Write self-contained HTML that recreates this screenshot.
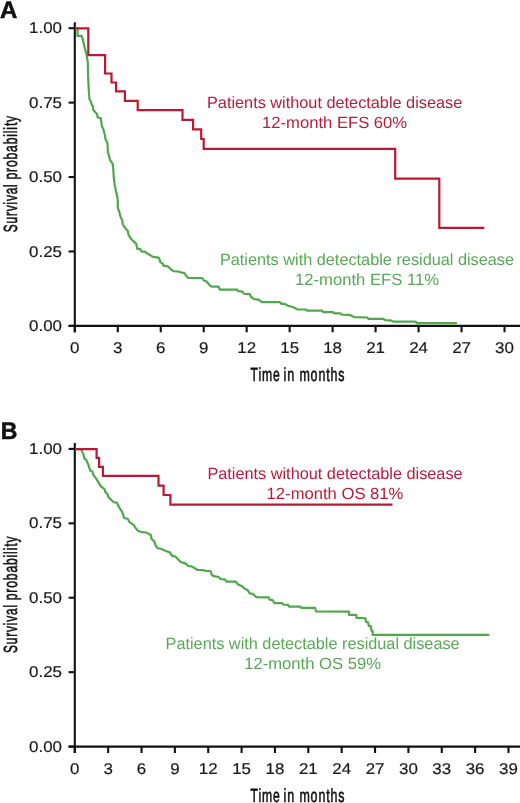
<!DOCTYPE html>
<html><head><meta charset="utf-8"><style>
html,body{margin:0;padding:0;background:#fff;width:520px;height:803px;overflow:hidden}
</style></head><body>
<svg width="520" height="803" viewBox="0 0 520 803" style="display:block;font-family:'Liberation Sans', sans-serif;text-rendering:geometricPrecision;will-change:transform">
<rect width="520" height="803" fill="#fff"/>
<line x1="74.8" y1="22.2" x2="74.8" y2="332.3" stroke="#111" stroke-width="2.1"/>
<line x1="68.6" y1="325.9" x2="520" y2="325.9" stroke="#111" stroke-width="2.1"/>
<line x1="68.6" y1="28.20" x2="74.8" y2="28.20" stroke="#111" stroke-width="2.1"/>
<text x="0" y="0" transform="translate(62.0,33.30) scale(1.09,1)" text-anchor="end" font-size="15.5" fill="#1a1a1a" stroke="#1a1a1a" stroke-width="0.2">1.00</text>
<line x1="68.6" y1="102.62" x2="74.8" y2="102.62" stroke="#111" stroke-width="2.1"/>
<text x="0" y="0" transform="translate(62.0,107.72) scale(1.09,1)" text-anchor="end" font-size="15.5" fill="#1a1a1a" stroke="#1a1a1a" stroke-width="0.2">0.75</text>
<line x1="68.6" y1="177.05" x2="74.8" y2="177.05" stroke="#111" stroke-width="2.1"/>
<text x="0" y="0" transform="translate(62.0,182.15) scale(1.09,1)" text-anchor="end" font-size="15.5" fill="#1a1a1a" stroke="#1a1a1a" stroke-width="0.2">0.50</text>
<line x1="68.6" y1="251.47" x2="74.8" y2="251.47" stroke="#111" stroke-width="2.1"/>
<text x="0" y="0" transform="translate(62.0,256.57) scale(1.09,1)" text-anchor="end" font-size="15.5" fill="#1a1a1a" stroke="#1a1a1a" stroke-width="0.2">0.25</text>
<line x1="68.6" y1="325.90" x2="74.8" y2="325.90" stroke="#111" stroke-width="2.1"/>
<text x="0" y="0" transform="translate(62.0,331.00) scale(1.09,1)" text-anchor="end" font-size="15.5" fill="#1a1a1a" stroke="#1a1a1a" stroke-width="0.2">0.00</text>
<line x1="74.80" y1="325.9" x2="74.80" y2="332.29999999999995" stroke="#111" stroke-width="2.1"/>
<text x="0" y="0" transform="translate(74.80,353.2) scale(1.09,1)" text-anchor="middle" font-size="15.5" fill="#1a1a1a" stroke="#1a1a1a" stroke-width="0.2">0</text>
<line x1="117.77" y1="325.9" x2="117.77" y2="332.29999999999995" stroke="#111" stroke-width="2.1"/>
<text x="0" y="0" transform="translate(117.77,353.2) scale(1.09,1)" text-anchor="middle" font-size="15.5" fill="#1a1a1a" stroke="#1a1a1a" stroke-width="0.2">3</text>
<line x1="160.74" y1="325.9" x2="160.74" y2="332.29999999999995" stroke="#111" stroke-width="2.1"/>
<text x="0" y="0" transform="translate(160.74,353.2) scale(1.09,1)" text-anchor="middle" font-size="15.5" fill="#1a1a1a" stroke="#1a1a1a" stroke-width="0.2">6</text>
<line x1="203.71" y1="325.9" x2="203.71" y2="332.29999999999995" stroke="#111" stroke-width="2.1"/>
<text x="0" y="0" transform="translate(203.71,353.2) scale(1.09,1)" text-anchor="middle" font-size="15.5" fill="#1a1a1a" stroke="#1a1a1a" stroke-width="0.2">9</text>
<line x1="246.68" y1="325.9" x2="246.68" y2="332.29999999999995" stroke="#111" stroke-width="2.1"/>
<text x="0" y="0" transform="translate(246.68,353.2) scale(1.09,1)" text-anchor="middle" font-size="15.5" fill="#1a1a1a" stroke="#1a1a1a" stroke-width="0.2">12</text>
<line x1="289.65" y1="325.9" x2="289.65" y2="332.29999999999995" stroke="#111" stroke-width="2.1"/>
<text x="0" y="0" transform="translate(289.65,353.2) scale(1.09,1)" text-anchor="middle" font-size="15.5" fill="#1a1a1a" stroke="#1a1a1a" stroke-width="0.2">15</text>
<line x1="332.62" y1="325.9" x2="332.62" y2="332.29999999999995" stroke="#111" stroke-width="2.1"/>
<text x="0" y="0" transform="translate(332.62,353.2) scale(1.09,1)" text-anchor="middle" font-size="15.5" fill="#1a1a1a" stroke="#1a1a1a" stroke-width="0.2">18</text>
<line x1="375.59" y1="325.9" x2="375.59" y2="332.29999999999995" stroke="#111" stroke-width="2.1"/>
<text x="0" y="0" transform="translate(375.59,353.2) scale(1.09,1)" text-anchor="middle" font-size="15.5" fill="#1a1a1a" stroke="#1a1a1a" stroke-width="0.2">21</text>
<line x1="418.56" y1="325.9" x2="418.56" y2="332.29999999999995" stroke="#111" stroke-width="2.1"/>
<text x="0" y="0" transform="translate(418.56,353.2) scale(1.09,1)" text-anchor="middle" font-size="15.5" fill="#1a1a1a" stroke="#1a1a1a" stroke-width="0.2">24</text>
<line x1="461.53" y1="325.9" x2="461.53" y2="332.29999999999995" stroke="#111" stroke-width="2.1"/>
<text x="0" y="0" transform="translate(461.53,353.2) scale(1.09,1)" text-anchor="middle" font-size="15.5" fill="#1a1a1a" stroke="#1a1a1a" stroke-width="0.2">27</text>
<line x1="504.50" y1="325.9" x2="504.50" y2="332.29999999999995" stroke="#111" stroke-width="2.1"/>
<text x="0" y="0" transform="translate(504.50,353.2) scale(1.09,1)" text-anchor="middle" font-size="15.5" fill="#1a1a1a" stroke="#1a1a1a" stroke-width="0.2">30</text>
<text x="0" y="0" transform="translate(250.6,380.8) scale(0.64,1)" font-size="19" letter-spacing="1.3" fill="#111" stroke="#111" stroke-width="0.6">Time</text>
<text x="0" y="0" transform="translate(283.5,380.8) scale(0.66,1)" font-size="19" letter-spacing="1.3" fill="#111" stroke="#111" stroke-width="0.6">in</text>
<text x="0" y="0" transform="translate(299.4,380.8) scale(0.655,1)" font-size="19" letter-spacing="1.3" fill="#111" stroke="#111" stroke-width="0.6">months</text>
<text x="0" y="0" transform="translate(16.8,232.2) rotate(-90) scale(0.625,1)" text-anchor="start" font-size="19" letter-spacing="1.3" fill="#111" stroke="#111" stroke-width="0.6">Survival</text>
<text x="0" y="0" transform="translate(16.8,115.0) rotate(-90) scale(0.64,1)" text-anchor="end" font-size="19" letter-spacing="1.3" fill="#111" stroke="#111" stroke-width="0.6">probability</text>
<text x="0" y="0" transform="translate(0.0,18.2) scale(1.0,1)" font-size="24" font-weight="bold" fill="#111" stroke="#111" stroke-width="0.55">A</text>
<line x1="74.8" y1="442.9" x2="74.8" y2="753.0" stroke="#111" stroke-width="2.1"/>
<line x1="68.6" y1="746.5999999999999" x2="520" y2="746.5999999999999" stroke="#111" stroke-width="2.1"/>
<line x1="68.6" y1="448.90" x2="74.8" y2="448.90" stroke="#111" stroke-width="2.1"/>
<text x="0" y="0" transform="translate(62.0,454.00) scale(1.09,1)" text-anchor="end" font-size="15.5" fill="#1a1a1a" stroke="#1a1a1a" stroke-width="0.2">1.00</text>
<line x1="68.6" y1="523.32" x2="74.8" y2="523.32" stroke="#111" stroke-width="2.1"/>
<text x="0" y="0" transform="translate(62.0,528.42) scale(1.09,1)" text-anchor="end" font-size="15.5" fill="#1a1a1a" stroke="#1a1a1a" stroke-width="0.2">0.75</text>
<line x1="68.6" y1="597.75" x2="74.8" y2="597.75" stroke="#111" stroke-width="2.1"/>
<text x="0" y="0" transform="translate(62.0,602.85) scale(1.09,1)" text-anchor="end" font-size="15.5" fill="#1a1a1a" stroke="#1a1a1a" stroke-width="0.2">0.50</text>
<line x1="68.6" y1="672.17" x2="74.8" y2="672.17" stroke="#111" stroke-width="2.1"/>
<text x="0" y="0" transform="translate(62.0,677.27) scale(1.09,1)" text-anchor="end" font-size="15.5" fill="#1a1a1a" stroke="#1a1a1a" stroke-width="0.2">0.25</text>
<line x1="68.6" y1="746.60" x2="74.8" y2="746.60" stroke="#111" stroke-width="2.1"/>
<text x="0" y="0" transform="translate(62.0,751.70) scale(1.09,1)" text-anchor="end" font-size="15.5" fill="#1a1a1a" stroke="#1a1a1a" stroke-width="0.2">0.00</text>
<line x1="74.80" y1="746.5999999999999" x2="74.80" y2="752.9999999999999" stroke="#111" stroke-width="2.1"/>
<text x="0" y="0" transform="translate(74.80,773.9) scale(1.09,1)" text-anchor="middle" font-size="15.5" fill="#1a1a1a" stroke="#1a1a1a" stroke-width="0.2">0</text>
<line x1="108.16" y1="746.5999999999999" x2="108.16" y2="752.9999999999999" stroke="#111" stroke-width="2.1"/>
<text x="0" y="0" transform="translate(108.16,773.9) scale(1.09,1)" text-anchor="middle" font-size="15.5" fill="#1a1a1a" stroke="#1a1a1a" stroke-width="0.2">3</text>
<line x1="141.52" y1="746.5999999999999" x2="141.52" y2="752.9999999999999" stroke="#111" stroke-width="2.1"/>
<text x="0" y="0" transform="translate(141.52,773.9) scale(1.09,1)" text-anchor="middle" font-size="15.5" fill="#1a1a1a" stroke="#1a1a1a" stroke-width="0.2">6</text>
<line x1="174.88" y1="746.5999999999999" x2="174.88" y2="752.9999999999999" stroke="#111" stroke-width="2.1"/>
<text x="0" y="0" transform="translate(174.88,773.9) scale(1.09,1)" text-anchor="middle" font-size="15.5" fill="#1a1a1a" stroke="#1a1a1a" stroke-width="0.2">9</text>
<line x1="208.24" y1="746.5999999999999" x2="208.24" y2="752.9999999999999" stroke="#111" stroke-width="2.1"/>
<text x="0" y="0" transform="translate(208.24,773.9) scale(1.09,1)" text-anchor="middle" font-size="15.5" fill="#1a1a1a" stroke="#1a1a1a" stroke-width="0.2">12</text>
<line x1="241.60" y1="746.5999999999999" x2="241.60" y2="752.9999999999999" stroke="#111" stroke-width="2.1"/>
<text x="0" y="0" transform="translate(241.60,773.9) scale(1.09,1)" text-anchor="middle" font-size="15.5" fill="#1a1a1a" stroke="#1a1a1a" stroke-width="0.2">15</text>
<line x1="274.96" y1="746.5999999999999" x2="274.96" y2="752.9999999999999" stroke="#111" stroke-width="2.1"/>
<text x="0" y="0" transform="translate(274.96,773.9) scale(1.09,1)" text-anchor="middle" font-size="15.5" fill="#1a1a1a" stroke="#1a1a1a" stroke-width="0.2">18</text>
<line x1="308.32" y1="746.5999999999999" x2="308.32" y2="752.9999999999999" stroke="#111" stroke-width="2.1"/>
<text x="0" y="0" transform="translate(308.32,773.9) scale(1.09,1)" text-anchor="middle" font-size="15.5" fill="#1a1a1a" stroke="#1a1a1a" stroke-width="0.2">21</text>
<line x1="341.68" y1="746.5999999999999" x2="341.68" y2="752.9999999999999" stroke="#111" stroke-width="2.1"/>
<text x="0" y="0" transform="translate(341.68,773.9) scale(1.09,1)" text-anchor="middle" font-size="15.5" fill="#1a1a1a" stroke="#1a1a1a" stroke-width="0.2">24</text>
<line x1="375.04" y1="746.5999999999999" x2="375.04" y2="752.9999999999999" stroke="#111" stroke-width="2.1"/>
<text x="0" y="0" transform="translate(375.04,773.9) scale(1.09,1)" text-anchor="middle" font-size="15.5" fill="#1a1a1a" stroke="#1a1a1a" stroke-width="0.2">27</text>
<line x1="408.40" y1="746.5999999999999" x2="408.40" y2="752.9999999999999" stroke="#111" stroke-width="2.1"/>
<text x="0" y="0" transform="translate(408.40,773.9) scale(1.09,1)" text-anchor="middle" font-size="15.5" fill="#1a1a1a" stroke="#1a1a1a" stroke-width="0.2">30</text>
<line x1="441.76" y1="746.5999999999999" x2="441.76" y2="752.9999999999999" stroke="#111" stroke-width="2.1"/>
<text x="0" y="0" transform="translate(441.76,773.9) scale(1.09,1)" text-anchor="middle" font-size="15.5" fill="#1a1a1a" stroke="#1a1a1a" stroke-width="0.2">33</text>
<line x1="475.12" y1="746.5999999999999" x2="475.12" y2="752.9999999999999" stroke="#111" stroke-width="2.1"/>
<text x="0" y="0" transform="translate(475.12,773.9) scale(1.09,1)" text-anchor="middle" font-size="15.5" fill="#1a1a1a" stroke="#1a1a1a" stroke-width="0.2">36</text>
<line x1="508.48" y1="746.5999999999999" x2="508.48" y2="752.9999999999999" stroke="#111" stroke-width="2.1"/>
<text x="0" y="0" transform="translate(508.48,773.9) scale(1.09,1)" text-anchor="middle" font-size="15.5" fill="#1a1a1a" stroke="#1a1a1a" stroke-width="0.2">39</text>
<text x="0" y="0" transform="translate(250.6,801.5) scale(0.64,1)" font-size="19" letter-spacing="1.3" fill="#111" stroke="#111" stroke-width="0.6">Time</text>
<text x="0" y="0" transform="translate(283.5,801.5) scale(0.66,1)" font-size="19" letter-spacing="1.3" fill="#111" stroke="#111" stroke-width="0.6">in</text>
<text x="0" y="0" transform="translate(299.4,801.5) scale(0.655,1)" font-size="19" letter-spacing="1.3" fill="#111" stroke="#111" stroke-width="0.6">months</text>
<text x="0" y="0" transform="translate(16.8,652.9) rotate(-90) scale(0.625,1)" text-anchor="start" font-size="19" letter-spacing="1.3" fill="#111" stroke="#111" stroke-width="0.6">Survival</text>
<text x="0" y="0" transform="translate(16.8,535.7) rotate(-90) scale(0.64,1)" text-anchor="end" font-size="19" letter-spacing="1.3" fill="#111" stroke="#111" stroke-width="0.6">probability</text>
<text x="0" y="0" transform="translate(0.7,439.09999999999997) scale(0.96,1)" font-size="24" font-weight="bold" fill="#111" stroke="#111" stroke-width="0.55">B</text>
<g fill="none" stroke-width="2.2" stroke-linejoin="miter" stroke-linecap="butt">
<path d="M75,28.4 L77.5,28.4 L77.5,35.9 L81.6,35.9 L82.8,39.4 L84.3,46.3 L86.6,54.8 L87.8,62.5 L88.1,75.4 L88.8,90.8 L89.2,96 L89.5,99.5 L90.9,101.8 L91.5,103.8 L92.9,106.4 L93.2,109.8 L95.3,112.2 L97,113.9 L97.6,117.3 L99.3,117.9 L100.7,118.2 L101.3,122 L101.9,126.6 L103,128.3 L104.7,134 L105.5,139.2 L107.5,143.2 L107.8,151.3 L109,155.9 L110.1,160 L112.7,164 L113.3,169.8 L113.8,177.8 L114.7,184.7 L116.1,191.6 L117.3,196.8 L117.8,200.9 L117.8,207.8 L119.5,212.6 L120.7,217.2 L122.4,220.7 L122.7,224.2 L124.4,227 L127.9,231.1 L128.4,234.5 L130.5,238 L133.1,240.9 L136.3,243.9 L137.2,248.7 L140.3,249.1 L141.5,251.4 L145.3,251.8 L146.5,253 L148.8,254.2 L150.8,255.7 L152.7,256.8 L158.5,257.6 L159.6,259.5 L160.4,262.2 L162.7,263.4 L163.5,265.7 L168.1,266.5 L170.4,268.8 L173.5,271.1 L178.1,271.5 L181.9,272.6 L184.3,272.9 L185.8,275.1 L188.2,278 L202.1,278 L203.6,280.4 L206.4,281.4 L208.4,283.8 L210.8,286.2 L212.7,286.7 L218.5,286.7 L219.9,289.7 L237.1,289.7 L238.3,291.2 L242.3,291.5 L244,293.8 L249.8,294.1 L251,296.7 L253.8,299 L258.5,299.6 L261.9,302.2 L279.8,302.2 L281.5,303.9 L284.6,303.9 L288.1,305.8 L292.7,307 L296.2,308.7 L297.3,309.5 L306,309.5 L307.1,310.7 L322.1,310.7 L323.3,312.2 L333.1,312.2 L334.2,313.4 L340.2,313.4 L341.9,314.6 L350,314.8 L352.3,316.3 L354.6,317.1 L367.3,317.5 L368.5,318.8 L383.5,318.8 L385.2,320.2 L391.5,320.6 L393.3,321.6 L415.4,321.6 L416.9,323.1 L456.9,323.1" stroke="#50A74C"/>
<path d="M75,28.4 H88.3 V55.2 H105.1 V73.5 H111.5 V82.5 H116 V91.3 H124.9 V100.9 H137.7 V110.2 H182.5 V119.8 H193.1 V129.4 H201.2 V139 H203.7 V148.8 H395.2 V178.6 H439.3 V227.8 H484.3" stroke="#B91935"/>
<path d="M75,449.1 L80.8,449.1 L83.5,454.3 L84.3,458.5 L86.2,459.7 L88.5,465.1 L90.1,470.5 L92.4,471.6 L93.5,475.1 L96.3,478.6 L98.3,482.1 L100.3,485.5 L101.5,487 L104.4,489 L105.3,491.9 L107.6,494.2 L108.4,497.1 L111.3,500 L113.9,502.3 L116.8,502.6 L117.7,504.6 L120,508.6 L122.3,512.2 L124.2,518 L127.7,518.8 L129.6,522.2 L133.8,524.9 L135,527.2 L137.7,530.7 L141.5,532.2 L146.2,532.5 L150.8,534.9 L151.5,538.8 L154.2,541.1 L156,546.3 L157.9,548.2 L160.8,548.7 L164.6,550.6 L169.9,552.5 L172.3,555.9 L175.2,556.5 L177.6,558.8 L180.5,562.1 L185.8,563.6 L188.2,566 L191.5,566.4 L197.3,569.8 L203.5,570.1 L205.8,571 L210.4,571 L212.1,575.3 L215,576.4 L218.5,577 L220.8,579.1 L224.8,579.3 L226.5,581.6 L235.8,581.6 L238.1,584.5 L242.1,586.2 L245,589.1 L247.3,589.7 L249.6,593.2 L253.1,594.1 L256.5,597.2 L268.5,597.4 L269.8,599.7 L272.5,600.1 L274.5,603.1 L281.9,603.1 L283.3,604.5 L288,604.8 L289.3,606.6 L300.1,606.6 L301.4,607.9 L314.9,607.9 L316.2,611.5 L348.8,611.7 L349.2,614.8 L356.2,614.8 L356.5,617.9 L365.4,618.2 L366.2,622.1 L368.1,622.5 L368.8,625.9 L370.8,626.3 L371.5,630.5 L372.7,631.3 L372.7,634.8 L489.3,634.8" stroke="#50A74C"/>
<path d="M75,449.1 H96.6 V457.8 H99.1 V466.8 H102.9 V475.8 H158.5 V485.6 H163.6 V495 H170.4 V504.7 H392.5" stroke="#B91935"/>
</g>
<text x="0" y="0" transform="translate(334.6,107.5) scale(1.0,1)" text-anchor="middle" font-size="16.3" fill="#B81C3C">Patients without detectable disease</text>
<text x="0" y="0" transform="translate(334.6,127.8) scale(1.021,1)" text-anchor="middle" font-size="16.3" fill="#B81C3C">12-month EFS 60%</text>
<text x="0" y="0" transform="translate(367.0,264.9) scale(1.0,1)" text-anchor="middle" font-size="16.3" fill="#57A955">Patients with detectable residual disease</text>
<text x="0" y="0" transform="translate(367.0,285.2) scale(1.021,1)" text-anchor="middle" font-size="16.3" fill="#57A955">12-month EFS 11%</text>
<text x="0" y="0" transform="translate(335.0,478.9) scale(1.0,1)" text-anchor="middle" font-size="16.3" fill="#B81C3C">Patients without detectable disease</text>
<text x="0" y="0" transform="translate(335.0,499.2) scale(1.021,1)" text-anchor="middle" font-size="16.3" fill="#B81C3C">12-month OS 81%</text>
<text x="0" y="0" transform="translate(312.6,649.0) scale(1.0,1)" text-anchor="middle" font-size="16.3" fill="#57A955">Patients with detectable residual disease</text>
<text x="0" y="0" transform="translate(312.6,669.3) scale(1.021,1)" text-anchor="middle" font-size="16.3" fill="#57A955">12-month OS 59%</text>
</svg>
</body></html>
